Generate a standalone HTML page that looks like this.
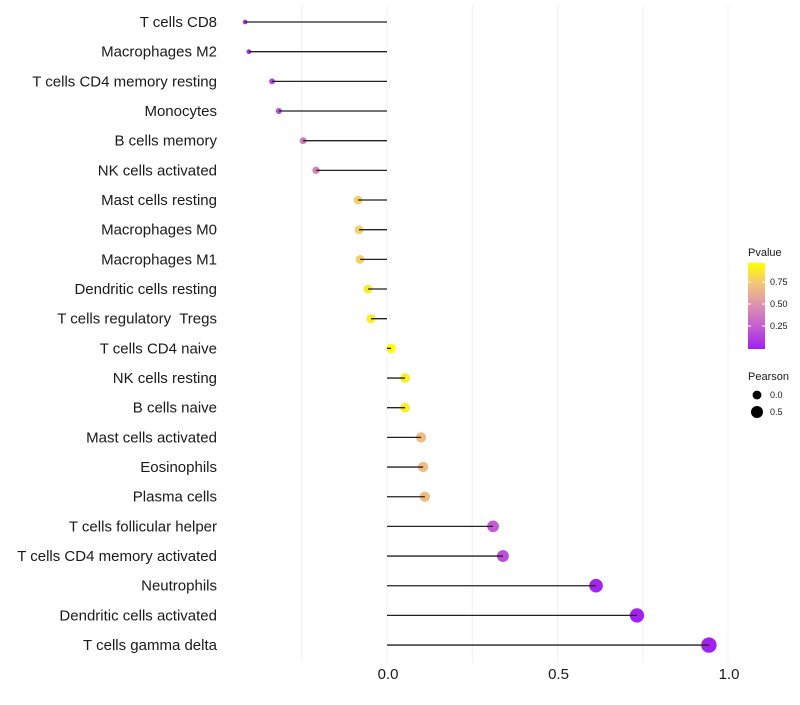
<!DOCTYPE html>
<html><head><meta charset="utf-8"><style>
body{margin:0;background:#fff;font-family:"Liberation Sans",sans-serif}
text{white-space:pre}
</style></head><body>
<svg id="chart" width="800" height="700" xmlns="http://www.w3.org/2000/svg">
<defs><linearGradient id="pg" x1="0" y1="1" x2="0" y2="0">
<stop offset="0" stop-color="#a020f0"/><stop offset="0.25" stop-color="#c35bd3"/><stop offset="0.5" stop-color="#dc8fb0"/><stop offset="0.75" stop-color="#f2c37c"/><stop offset="1" stop-color="#ffff00"/></linearGradient></defs>
<g id="grid"></g>
<g id="marks"></g>
<g id="ylabels" font-size="15" fill="#1a1a1a" text-anchor="end"></g>
<g id="xlabels" font-size="15" fill="#1a1a1a" text-anchor="middle"></g>
<g font-size="9" fill="#1a1a1a">
<text x="748" y="256" font-size="11">Pvalue</text>
<rect x="748" y="263" width="17" height="86" fill="url(#pg)"/>
<line x1="748" y1="282" x2="751" y2="282" stroke="#fff"/><line x1="762" y1="282" x2="765" y2="282" stroke="#fff"/>
<line x1="748" y1="304" x2="751" y2="304" stroke="#fff"/><line x1="762" y1="304" x2="765" y2="304" stroke="#fff"/>
<line x1="748" y1="326" x2="751" y2="326" stroke="#fff"/><line x1="762" y1="326" x2="765" y2="326" stroke="#fff"/>
<text x="770" y="285">0.75</text><text x="770" y="307">0.50</text><text x="770" y="329">0.25</text>
</g>
<g font-size="9" fill="#1a1a1a">
<text x="748" y="380" font-size="11">Pearson</text>
<circle cx="757" cy="395" r="4.4" fill="#000"/><text x="770" y="398">0.0</text>
<circle cx="757" cy="412" r="6" fill="#000"/><text x="770" y="415">0.5</text>
</g>
</svg>
<script>
const categories=["T cells CD8","Macrophages M2","T cells CD4 memory resting","Monocytes","B cells memory","NK cells activated","Mast cells resting","Macrophages M0","Macrophages M1","Dendritic cells resting","T cells regulatory  Tregs","T cells CD4 naive","NK cells resting","B cells naive","Mast cells activated","Eosinophils","Plasma cells","T cells follicular helper","T cells CD4 memory activated","Neutrophils","Dendritic cells activated","T cells gamma delta"];
const pearson=[-0.416,-0.405,-0.337,-0.317,-0.246,-0.208,-0.085,-0.082,-0.079,-0.056,-0.047,0.012,0.053,0.053,0.10,0.106,0.111,0.311,0.340,0.613,0.733,0.944];
const pvalues=[0.05,0.06,0.15,0.18,0.4,0.45,0.8,0.8,0.8,0.92,0.93,0.99,0.92,0.92,0.72,0.72,0.71,0.25,0.2,0.02,0.01,0.01];
const xTicks=[0,0.5,1.0];
const xTickLabels=["0.0","0.5","1.0"];
const gridVals=[-0.25,0,0.25,0.5,0.75,1.0];
const NS="http://www.w3.org/2000/svg";
const x=v=>387+v*341;
const y=i=>22+i*29.67;
const stops=[[0,[160,32,240]],[0.25,[195,91,211]],[0.5,[220,143,176]],[0.75,[242,195,124]],[1,[255,255,0]]];
function col(p){for(let k=1;k<stops.length;k++){if(p<=stops[k][0]){const a=stops[k-1],b=stops[k],t=(p-a[0])/(b[0]-a[0]);return "rgb("+a[1].map((c,j)=>Math.round(c+(b[1][j]-c)*t)).join(",")+")";}}return "rgb(255,255,0)";}
const r=v=>Math.sqrt(Math.max(22+40*v,2));
function mk(t,a,p){const e=document.createElementNS(NS,t);for(const k in a)e.setAttribute(k,a[k]);p.appendChild(e);return e;}
const G=document.getElementById('grid'),M=document.getElementById('marks'),YL=document.getElementById('ylabels'),XL=document.getElementById('xlabels');
gridVals.forEach(g=>{const l=mk('line',{x1:x(g),x2:x(g),y1:5,y2:662,stroke:'#f0f0f0','stroke-width':1},G);

});
categories.forEach((c,i)=>{
const dot=mk('circle',{cx:x(pearson[i]),cy:y(i),r:r(pearson[i]),fill:col(pvalues[i])},M);


const seg=mk('line',{x1:x(0),x2:x(pearson[i]),y1:y(i),y2:y(i),stroke:'#222','stroke-width':1.3},M);


const t=mk('text',{x:217,y:y(i)+5},YL);t.textContent=c;


});
xTicks.forEach((v,i)=>{const t=mk('text',{x:x(v)+1,y:679},XL);t.textContent=xTickLabels[i];

});
</script>
</body></html>
